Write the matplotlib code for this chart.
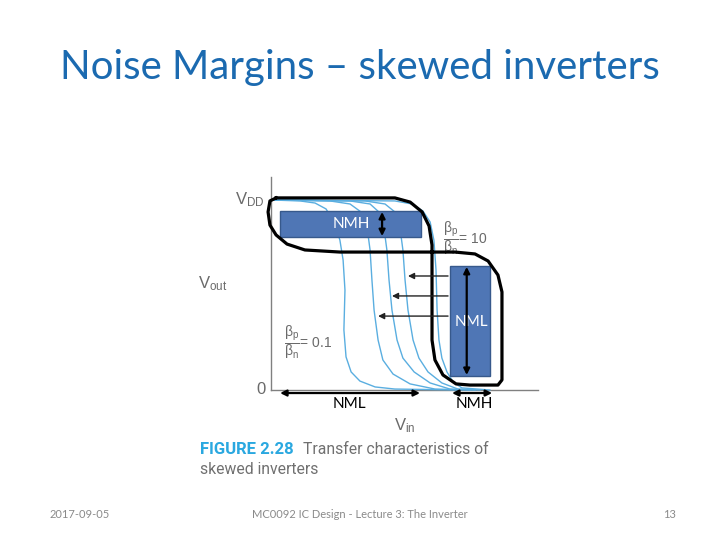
import matplotlib
matplotlib.use('Agg')
import matplotlib.pyplot as plt
from matplotlib.patches import Rectangle

plt.rcParams['mathtext.fontset'] = 'custom'
plt.rcParams['mathtext.rm'] = 'Liberation Sans'
plt.rcParams['mathtext.it'] = 'Liberation Sans:italic'

# transfer curves: Vin, Vout (VDD = 1)
vin_01 = [0.004, 0.109, 0.165, 0.206, 0.236, 0.258, 0.270, 0.277, 0.273, 0.281, 0.300, 0.333, 0.390, 0.464, 0.708]
vout_01 = [1.0, 0.995, 0.984, 0.953, 0.884, 0.789, 0.684, 0.526, 0.316, 0.174, 0.095, 0.047, 0.016, 0.005, 0.0]
vin_b = [0.004, 0.221, 0.296, 0.337, 0.360, 0.371, 0.378, 0.386, 0.401, 0.419, 0.457, 0.521, 0.614, 0.745]
vout_b = [1.0, 0.995, 0.979, 0.937, 0.853, 0.737, 0.579, 0.421, 0.263, 0.158, 0.084, 0.032, 0.005, 0.0]
vin_c = [0.004, 0.296, 0.371, 0.404, 0.423, 0.434, 0.442, 0.453, 0.472, 0.494, 0.536, 0.596, 0.670, 0.764]
vout_c = [1.0, 0.995, 0.979, 0.937, 0.853, 0.737, 0.579, 0.421, 0.263, 0.168, 0.095, 0.037, 0.005, 0.0]
vin_d = [0.004, 0.352, 0.427, 0.464, 0.483, 0.494, 0.502, 0.513, 0.532, 0.554, 0.588, 0.640, 0.700, 0.783]
vout_d = [1.0, 0.995, 0.979, 0.937, 0.853, 0.737, 0.579, 0.421, 0.263, 0.168, 0.095, 0.037, 0.005, 0.0]
vin_10 = [0.004, 0.464, 0.528, 0.569, 0.596, 0.610, 0.618, 0.622, 0.629, 0.640, 0.659, 0.682, 0.715, 0.820]
vout_10 = [1.0, 0.995, 0.979, 0.942, 0.884, 0.789, 0.632, 0.421, 0.263, 0.168, 0.095, 0.042, 0.011, 0.0]

# hand-drawn black outline around the margins
outline_x = [0.019, 0.464, 0.521, 0.566, 0.592, 0.603, 0.603, 0.614, 0.644, 0.693, 0.745, 0.850, 0.865,
             0.865, 0.850, 0.813, 0.764, 0.689, 0.258, 0.127, 0.060, 0.019, -0.004, -0.011, -0.004, 0.019]
outline_y = [1.011, 1.011, 0.989, 0.937, 0.863, 0.763, 0.263, 0.158, 0.079, 0.032, 0.026, 0.026, 0.053,
             0.516, 0.605, 0.679, 0.716, 0.726, 0.726, 0.737, 0.768, 0.816, 0.868, 0.937, 0.995, 1.011]

# noise margin boxes: (x0, x1, y0, y1)
nmh_box = (0.034, 0.562, 0.805, 0.942)
nml_box = (0.670, 0.820, 0.074, 0.653)
nml_span = (0.034, 0.558)
nmh_span = (0.678, 0.828)
arrow_tails = 0.663
arrow_heads = [0.513, 0.453, 0.401]
arrow_levels = [0.600, 0.495, 0.389]

fig = plt.figure(figsize=(7.2, 5.4), dpi=100)
ax = fig.add_axes([0, 0, 1, 1])
ax.set_xlim(-1.015, 1.6816)
ax.set_ylim(-0.7895, 2.0526)
ax.axis('off')

# axes of the figure
ax.plot([0, 0], [0, 1.121], color='#808080', lw=1)
ax.plot([0, 1.0], [0, 0], color='#808080', lw=1)

curve_color = '#5aaee0'
for xs, ys in [(vin_01, vout_01), (vin_b, vout_b), (vin_c, vout_c), (vin_d, vout_d), (vin_10, vout_10)]:
	ax.plot(xs, ys, color=curve_color, lw=1.0, zorder=2)

ax.plot(outline_x, outline_y, color='black', lw=2.3, solid_joinstyle='round', zorder=4)

box_face = '#4f76b5'
box_edge = '#37598c'
for x0, x1, y0, y1 in (nmh_box, nml_box):
	ax.add_patch(Rectangle((x0, y0), x1 - x0, y1 - y0, facecolor=box_face, edgecolor=box_edge, lw=1, zorder=3))

ax.text(0.3, (nmh_box[2] + nmh_box[3]) / 2, 'NMH', color='white', fontsize=11, family='Lato',
	ha='center', va='center', zorder=5)
ax.text(0.752, 0.358, 'NML', color='white', fontsize=11, family='Lato', ha='center', va='center', zorder=5)

dbl = dict(arrowstyle='<|-|>', color='black', lw=1.6, mutation_scale=9, shrinkA=0, shrinkB=0)
ax.annotate('', xy=(0.416, nmh_box[2] + 0.005), xytext=(0.416, nmh_box[3] - 0.005), arrowprops=dbl, zorder=6)
ax.annotate('', xy=(0.733, nml_box[2] + 0.005), xytext=(0.733, nml_box[3] - 0.005), arrowprops=dbl, zorder=6)
ax.annotate('', xy=(nml_span[0], -0.016), xytext=(nml_span[1], -0.016), arrowprops=dbl, zorder=6)
ax.annotate('', xy=(nmh_span[0], -0.016), xytext=(nmh_span[1], -0.016), arrowprops=dbl, zorder=6)

for head, lev in zip(arrow_heads, arrow_levels):
	ax.annotate('', xy=(head, lev), xytext=(arrow_tails, lev),
		arrowprops=dict(arrowstyle='-|>', color='#222222', lw=1.0, mutation_scale=9, shrinkA=0, shrinkB=0), zorder=6)

ax.text(0.292, -0.074, 'NML', color='black', fontsize=11, family='Lato', ha='center', va='center')
ax.text(0.760, -0.074, 'NMH', color='black', fontsize=11, family='Lato', ha='center', va='center')

# labels from the scanned figure
grey = '#6a6a6a'
ratio = '$\\dfrac{\\mathrm{β_p}}{\\mathrm{β_n}}$'
ax.text(-0.079, 1.0, r'V$_{\rm DD}$', color=grey, fontsize=12, family='Liberation Sans', ha='center', va='center')
ax.text(-0.217, 0.56, r'V$_{\rm out}$', color=grey, fontsize=12, family='Liberation Sans', ha='center', va='center')
ax.text(-0.037, 0.005, '0', color=grey, fontsize=12, family='Liberation Sans', ha='center', va='center')
ax.text(0.502, -0.19, r'V$_{\rm in}$', color=grey, fontsize=12, family='Liberation Sans', ha='center', va='center')
ax.text(0.645, 0.80, ratio + '= 10', color=grey, fontsize=10,
	family='Liberation Sans', ha='left', va='center')
ax.text(0.050, 0.253, ratio + '= 0.1', color=grey, fontsize=10,
	family='Liberation Sans', ha='left', va='center')

fig.text(200 / 720, 1 - 449 / 540, 'FIGURE 2.28', color='#2aa8e0', fontsize=12, family='Roboto',
	weight='bold', ha='left', va='center')
fig.text(303 / 720, 1 - 449 / 540, 'Transfer characteristics of', color='#707070', fontsize=11.3,
	family='Roboto', ha='left', va='center')
fig.text(200 / 720, 1 - 470 / 540, 'skewed inverters', color='#707070', fontsize=11.3,
	family='Roboto', ha='left', va='center')

# slide title and footer
fig.text(0.5, 1 - 68 / 540, 'Noise Margins \u2013 skewed inverters', color='#1b6ab0', fontsize=29,
	family='Lato', ha='center', va='center')
fig.text(80 / 720, 1 - 515 / 540, '2017-09-05', color='#8a8a8a', fontsize=8, family='Lato', ha='center', va='center')
fig.text(360 / 720, 1 - 515 / 540, 'MC0092 IC Design - Lecture 3: The Inverter', color='#8a8a8a', fontsize=8,
	family='Lato', ha='center', va='center')
fig.text(670 / 720, 1 - 515 / 540, '13', color='#8a8a8a', fontsize=8, family='Lato', ha='center', va='center')

fig.savefig('out.png', dpi=100)
